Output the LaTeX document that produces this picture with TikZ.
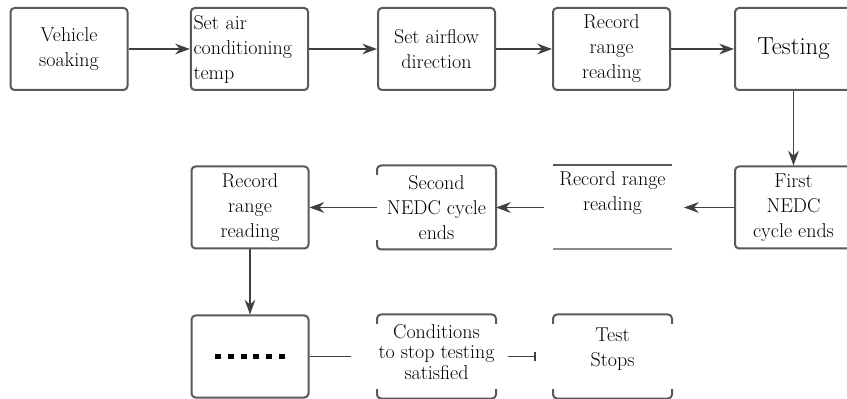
\documentclass[tikz,border=0pt]{standalone}
\usetikzlibrary{arrows.meta}
\begin{document}
\begin{tikzpicture}[x=0.75pt,y=-0.75pt,
  box/.style={draw=black!65,line width=1.5pt,rounded corners=3pt,fill=white,
    minimum width=87.75pt,minimum height=61.5pt,inner sep=2pt,align=center,
    font=\fontsize{15}{18.75}\selectfont},
  openbox/.style={box,draw=none},
  txt/.style={inner sep=0pt,align=center,font=\fontsize{15}{18.75}\selectfont},
  frame/.style={draw=black!65,line width=1.5pt,rounded corners=3pt},
  arr/.style={draw=black!75,line width=1.4pt,-{Stealth[length=11pt,width=8pt]}},
  link/.style={draw=black!75,line width=1.4pt},
  stopline/.style={link,-{Bar[width=7pt]}}]
  \useasboundingbox (0,0) rectangle (847,399);
  \clip (0,0) rectangle (847,399);

  % first row
  \node[box] (soak) at (69,49) {Vehicle\\soaking};
  \node[box,text width=84pt,align=left] (temp) at (249.5,49) {Set air\\conditioning\\temp};
  \node[box] (flow) at (436.5,49) {Set airflow\\direction};
  \node[box] (rec1) at (611.5,49) {Record\\range\\reading};
  \node[box,font=\fontsize{18.5}{22}\selectfont] (test) at (793.5,49) {Testing};

  % second row
  \node[box] (nedc1) at (793.5,207.5) {First\\NEDC\\cycle ends};
  \node[openbox] (rec2) at (612.5,207.5) {};
  \node[txt] (rec2t) at (612.5,193.5) {Record range\\reading};
  \node[openbox] (nedc2) at (436.5,207.5) {Second\\NEDC cycle\\ends};
  \node[box] (rec3) at (250,207.5) {Record\\range\\reading};

  % third row
  \node[box] (more) at (250,356.5) {\rule{4.5pt}{4.5pt}\hspace{5pt}\rule{4.5pt}{4.5pt}\hspace{5pt}\rule{4.5pt}{4.5pt}\hspace{5pt}\rule{4.5pt}{4.5pt}\hspace{5pt}\rule{4.5pt}{4.5pt}\hspace{5pt}\rule{4.5pt}{4.5pt}};
  \node[openbox] (cond) at (436.5,356.5) {};
  \node[txt,font=\fontsize{15}{15.5}\selectfont] (condt) at (436.5,352) {Conditions\\to stop testing\\satisfied};
  \node[openbox] (stop) at (612.5,356.5) {};
  \node[txt] (stopt) at (612.5,349.5) {Test\\Stops};

  % partly drawn frames
  \draw[frame] (rec2.north west) -- (rec2.north east);
  \draw[frame,draw=black!45] (rec2.south west) -- (rec2.south east);
  \draw[frame] ([yshift=-7pt]nedc2.north west) -- (nedc2.north west) -- (nedc2.north east)
    -- (nedc2.south east) -- (nedc2.south west) -- ([yshift=7pt]nedc2.south west);
  \draw[frame] ([yshift=-7pt]cond.north west) -- (cond.north west) -- (cond.north east) -- ([yshift=-7pt]cond.north east);
  \draw[frame] ([yshift=7pt]cond.south west) -- (cond.south west) -- (cond.south east) -- ([yshift=7pt]cond.south east);
  \draw[frame] ([yshift=-7pt]stop.north west) -- (stop.north west) -- (stop.north east) -- ([yshift=-7pt]stop.north east);
  \draw[frame] ([yshift=7pt]stop.south west) -- (stop.south west) -- (stop.south east) -- ([yshift=7pt]stop.south east);

  \path[arr] (soak) -- (temp);
  \path[arr] (temp) -- (flow);
  \path[arr] (flow) -- (rec1);
  \path[arr] (rec1) -- (test);
  \path[arr] (test) -- (nedc1);
  \path[arr,shorten >=9pt] (nedc1) -- (rec2);
  \path[arr,shorten <=6.75pt] (rec2) -- (nedc2);
  \path[arr] (nedc2) -- (rec3);
  \path[arr] (rec3) -- (more);
  \path[link,shorten >=19.5pt] (more) -- (cond);
  \path[stopline,shorten <=9pt,shorten >=12.75pt] (cond) -- (stop);

\end{tikzpicture}
\end{document}
